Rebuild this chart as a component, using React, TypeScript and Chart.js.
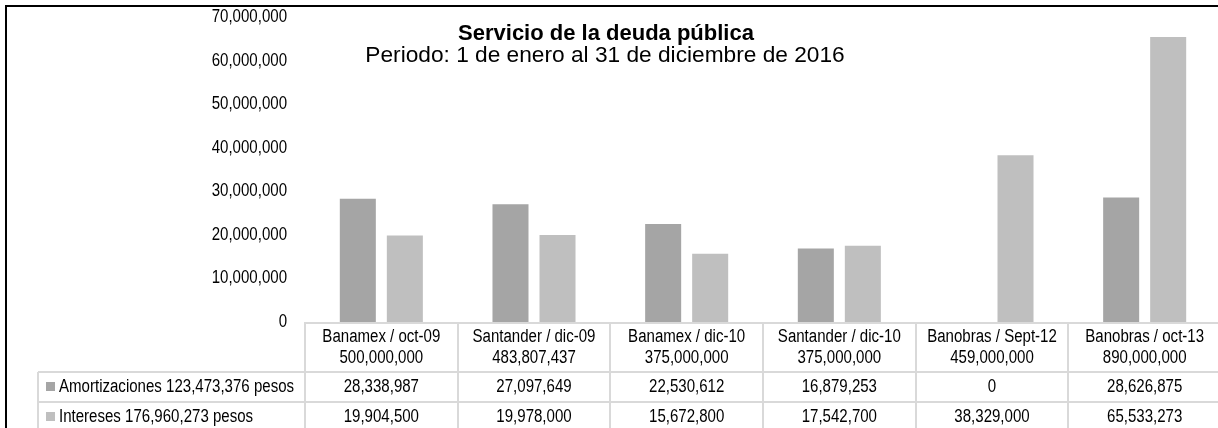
import React, { useEffect, useRef } from "react";
import { Chart, registerables } from "chart.js";

Chart.register(...registerables);

const categories = [
  "Banamex / oct-09",
  "Santander / dic-09",
  "Banamex / dic-10",
  "Santander / dic-10",
  "Banobras / Sept-12",
  "Banobras / oct-13",
];
const creditAmounts = [
  "500,000,000",
  "483,807,437",
  "375,000,000",
  "375,000,000",
  "459,000,000",
  "890,000,000",
];
const amortizaciones = [28338987, 27097649, 22530612, 16879253, 0, 28626875];
const intereses = [19904500, 19978000, 15672800, 17542700, 38329000, 65533273];
const seriesLabels = ["Amortizaciones 123,473,376 pesos", "Intereses 176,960,273 pesos"];
const titleText = "Servicio de la deuda pública";
const subtitleText = "Periodo: 1 de enero al 31 de diciembre de 2016";
const yTicks = [0, 10000000, 20000000, 30000000, 40000000, 50000000, 60000000, 70000000];

const COLORS = ["#A5A5A5", "#BFBFBF"];
const GRID = "#D9D9D9";
const SMALL_FONT = '18px "Liberation Sans", Arial, sans-serif';
const NARROW = 0.836;

const fmt = (v: number) => v.toLocaleString("en-US");

function narrowText(ctx: CanvasRenderingContext2D, text: string, x: number, y: number, align: CanvasTextAlign) {
  ctx.save();
  ctx.translate(x, y);
  ctx.scale(NARROW, 1);
  ctx.font = SMALL_FONT;
  ctx.textAlign = align;
  ctx.textBaseline = "middle";
  ctx.fillText(text, 0, 0);
  ctx.restore();
}

export default function App() {
  const ref = useRef<HTMLCanvasElement>(null);

  useEffect(() => {
    if (!ref.current) return;

    const tablePlugin = {
      id: "dataTable",
      afterDraw(chart: any) {
        const ctx: CanvasRenderingContext2D = chart.ctx;
        const xs = chart.scales.x;
        const ys = chart.scales.y;
        const area = chart.chartArea;
        const n = categories.length;
        const w = (area.right - area.left) / n;
        const top = area.bottom;
        const headH = 50;
        const rowH = 30;
        const legendLeft = 38;
        ctx.save();
        // title
        ctx.fillStyle = "#000";
        ctx.textAlign = "center";
        ctx.textBaseline = "alphabetic";
        ctx.font = 'bold 22px "Liberation Sans", Arial';
        ctx.fillText(titleText, 606, 40);
        ctx.font = '22.7px "Liberation Sans", Arial';
        ctx.fillText(subtitleText, 605, 62);

        // y tick labels from the scale
        ys.ticks.forEach((t: any) => {
          narrowText(ctx, fmt(t.value), 287, ys.getPixelForValue(t.value), "right");
        });

        // grid lines
        ctx.strokeStyle = GRID;
        ctx.lineWidth = 2;
        ctx.beginPath();
        ctx.moveTo(area.left, top + 1);
        ctx.lineTo(area.right + 4, top + 1);
        ctx.moveTo(legendLeft, top + headH);
        ctx.lineTo(area.right + 4, top + headH);
        ctx.moveTo(legendLeft, top + headH + rowH);
        ctx.lineTo(area.right + 4, top + headH + rowH);
        ctx.moveTo(legendLeft, top + headH);
        ctx.lineTo(legendLeft, top + headH + rowH * 2 + 10);
        for (let i = 0; i <= n; i++) {
          const x = Math.round(area.left + i * w);
          ctx.moveTo(x, top);
          ctx.lineTo(x, top + headH + rowH * 2 + 10);
        }
        ctx.stroke();

        // header text
        ctx.fillStyle = "#000";
        categories.forEach((c, i) => {
          const cx = xs.getPixelForValue(i);
          narrowText(ctx, c, cx, top + 15, "center");
          narrowText(ctx, creditAmounts[i], cx, top + 36, "center");
        });
        const rows = [amortizaciones, intereses];
        rows.forEach((vals, r) => {
          const cy = top + headH + rowH * r + rowH / 2;
          ctx.fillStyle = "#000";
          vals.forEach((v, i) => {
            narrowText(ctx, fmt(v), xs.getPixelForValue(i), cy, "center");
          });
          ctx.fillStyle = COLORS[r];
          ctx.fillRect(46, cy - 5, 9, 9);
          ctx.fillStyle = "#000";
          narrowText(ctx, seriesLabels[r], 59, cy, "left");
        });
        ctx.restore();
      },
    };

    const chart = new Chart(ref.current, {
      type: "bar",
      data: {
        labels: categories,
        datasets: [
          { label: seriesLabels[0], data: amortizaciones, backgroundColor: COLORS[0] },
          { label: seriesLabels[1], data: intereses, backgroundColor: COLORS[1] },
        ],
      },
      options: {
        animation: false,
        responsive: false,
        maintainAspectRatio: false,
        layout: { padding: { top: 17.5, bottom: 106, left: 0, right: 4 } },
        datasets: { bar: { categoryPercentage: 0.616, barPercentage: 0.766 } },
        plugins: {
          legend: { display: false },
          title: { display: false },
          tooltip: { enabled: false },
        },
        scales: {
          x: { display: false, offset: true },
          y: {
            min: 0,
            max: 70000000,
            afterFit(scale: any) {
              scale.width = 305;
            },
            afterBuildTicks(scale: any) {
              scale.ticks = yTicks.map((v) => ({ value: v }));
            },
            grid: { display: false },
            border: { display: false },
            ticks: { display: false },
          },
        },
      },
      plugins: [tablePlugin],
    });
    return () => chart.destroy();
  }, []);

  return (
    <div
      style={{
        position: "fixed",
        left: 0,
        top: 0,
        width: 1218,
        height: 428,
        overflow: "hidden",
        background: "#fff",
      }}
    >
      <div
        style={{
          position: "absolute",
          left: 5,
          top: 5,
          width: 1240,
          height: 460,
          borderLeft: "2px solid #000",
          borderTop: "2px solid #000",
        }}
      />
      <canvas ref={ref} width={1225} height={428} style={{ position: "absolute", left: 0, top: 0 }} />
    </div>
  );
}
